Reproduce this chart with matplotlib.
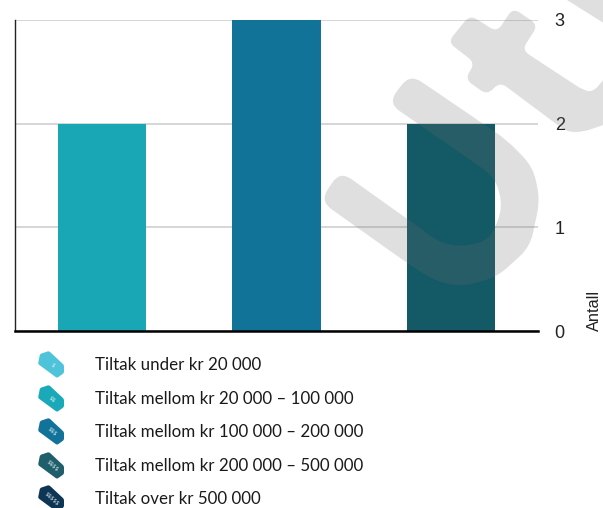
import numpy as np
import matplotlib
matplotlib.use('Agg')
import matplotlib.pyplot as plt
from matplotlib.path import Path
from matplotlib.patches import PathPatch, Polygon


W, H = 603, 508

# bars
positions = [0, 1, 2]
counts = [2, 3, 2]
bar_cols = ['#19a7b6', '#117398', '#145a66']
yticks = [0, 1, 2, 3]

# legend rows
legend_labels = ['Tiltak under kr 20 000',
                 'Tiltak mellom kr 20 000 – 100 000',
                 'Tiltak mellom kr 100 000 – 200 000',
                 'Tiltak mellom kr 200 000 – 500 000',
                 'Tiltak over kr 500 000']
legend_cols = ['#4fc3d9', '#1aa9b8', '#11739a', '#1f5f6b', '#0d3554']
legend_y = [364, 398, 431, 465, 498]

# tag outline, relative to the tag centre
tag_shape = [(-11, -10), (-2, -13), (13, 1), (13, 9), (6, 14), (-13, 0)]

# watermark letters, pixel outlines
wm_u = [(340, 171), (420, 228), (440, 243), (463, 247), (490, 240), (503, 207),
        (495, 177), (388, 103), (410, 74), (507, 140), (533, 167), (540, 200),
        (530, 247), (497, 277), (460, 287), (433, 280), (400, 258), (320, 201)]
wm_t = [(470, 15), (497, 32), (513, 8), (538, 25), (522, 50), (583, 90), (593, 92),
        (612, 70), (612, 122), (583, 132), (567, 132), (500, 82), (487, 95),
        (465, 79), (475, 63), (448, 42)]
wm_next = [(559, -5), (610, -5), (610, 27)]
wm_col = (0.42, 0.42, 0.42, 0.21)


def rounded_path(pts, r=12):
    '''
    closed path through pts with the corners rounded off
    '''
    pts = np.array(pts, dtype=float)
    n = len(pts)
    verts, codes = [], []
    for i in range(n):
        p, prv, nxt = pts[i], pts[i-1], pts[(i+1) % n]
        d1, d2 = prv-p, nxt-p
        l1, l2 = np.hypot(*d1), np.hypot(*d2)
        a = p + d1/l1*min(r, l1/2)
        b = p + d2/l2*min(r, l2/2)
        verts += [a, p, b]
        codes += [Path.MOVETO if i == 0 else Path.LINETO, Path.CURVE3, Path.CURVE3]
    verts.append(verts[0])
    codes.append(Path.CLOSEPOLY)
    return Path(verts, codes)


fig = plt.figure(figsize=(W/100, H/100), dpi=100)
fig.patch.set_facecolor('w')

ax = fig.add_axes([15/W, (H-331)/H, (538-15)/W, (331-20)/H])
ax.bar(positions, counts, width=0.505, color=bar_cols, zorder=3)
ax.set_xlim(-0.5, 2.5)
ax.set_ylim(0, 3)
ax.set_xticks([])
ax.set_yticks(yticks)
ax.yaxis.tick_right()
ax.tick_params(axis='y', length=0, pad=12, labelsize=13, labelcolor='#222222')
for lbl in ax.get_yticklabels():
    lbl.set_family('Liberation Sans')
ax.grid(axis='y', color='#cccccc', linewidth=1.1, zorder=1)
ax.set_axisbelow(True)
for s in ['top', 'right']:
    ax.spines[s].set_visible(False)
ax.spines['left'].set_linewidth(1.0)
ax.spines['left'].set_color('#222222')
ax.spines['bottom'].set_linewidth(1.8)
ax.spines['bottom'].set_zorder(5)

# overlay in pixel coordinates for legend and watermark
ovl = fig.add_axes([0, 0, 1, 1], facecolor='none')
ovl.set_xlim(0, W)
ovl.set_ylim(H, 0)
ovl.set_axis_off()

ovl.text(594, 331, 'Antall', rotation=90, ha='center', va='bottom',
         family='Liberation Sans', fontsize=11.8, color='#222222')

for label, col, y, n in zip(legend_labels, legend_cols, legend_y, range(1, 6)):
    tag = np.array(tag_shape, dtype=float) + [51, y]
    ovl.add_patch(PathPatch(rounded_path(tag, r=1.5), facecolor=col, edgecolor='none'))
    ovl.text(52, y+1, '$'*n, rotation=-42, rotation_mode='anchor', ha='center',
             va='center', family='DejaVu Sans', fontsize=4, color='#e8f4f6',
             parse_math=False)
    ovl.text(95, y+1, label, ha='left', va='center', family='Lato', fontsize=12.15,
             color='#1a1a1a')

ovl.add_patch(PathPatch(rounded_path(wm_u, r=14), facecolor=wm_col,
                        edgecolor='none', zorder=10))
ovl.add_patch(PathPatch(rounded_path(wm_t, r=8), facecolor=wm_col,
                        edgecolor='none', zorder=10))
ovl.add_patch(Polygon(wm_next, closed=True, facecolor=wm_col,
                      edgecolor='none', zorder=10))

fig.savefig('out.png', dpi=100, facecolor=fig.get_facecolor())
plt.close()
